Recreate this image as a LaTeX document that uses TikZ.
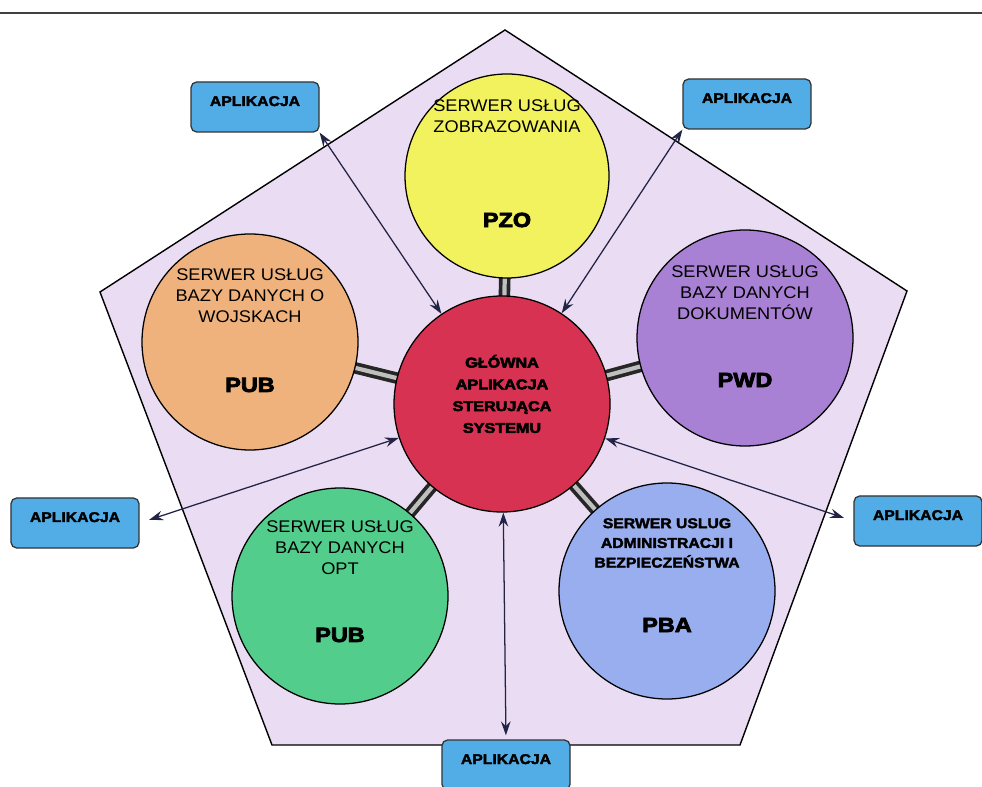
\documentclass[tikz,border=0pt]{standalone}
\usepackage{fontspec}
\setmainfont{Liberation Sans}
\newfontfamily\labelfont[FakeStretch=1.08]{Liberation Sans}
\newfontfamily\heavyfont[FakeStretch=1.12,FakeBold=2.5]{Liberation Sans Bold}
\newfontfamily\blackfont[FakeStretch=1.15,FakeBold=4]{Liberation Sans Bold}
\usetikzlibrary{positioning}
\usetikzlibrary{arrows.meta}
\usetikzlibrary{backgrounds}

\definecolor{penta}{RGB}{233,220,243}
\definecolor{zolty}{RGB}{242,242,95}
\definecolor{czerwony}{RGB}{216,50,82}
\definecolor{pomarancz}{RGB}{240,178,125}
\definecolor{fiolet}{RGB}{168,128,212}
\definecolor{zielony}{RGB}{82,205,140}
\definecolor{niebieski}{RGB}{152,174,238}
\definecolor{appblue}{RGB}{82,172,230}
\definecolor{strzal}{RGB}{35,35,70}

\begin{document}
\begin{tikzpicture}[x=0.25mm, y=-0.25mm]
% Styles:
\tikzset{serwer/.style={circle, draw=black, line width=0.9pt, minimum size=54mm, inner sep=0pt}}
\tikzset{srvtext/.style={align=center, font=\labelfont\fontsize{12}{15}\selectfont}}
\tikzset{boldtext/.style={align=center, font=\heavyfont\fontsize{10}{14}\selectfont}}
\tikzset{kod/.style={font=\blackfont\fontsize{14.5}{16}\selectfont}}
\tikzset{aplikacja/.style={draw=black!80, line width=0.9pt, fill=appblue, rounded corners=4pt,
    minimum width=32mm, minimum height=12.5mm, text height=2.5mm, text depth=3mm,
    font=\heavyfont\fontsize{10}{12}\selectfont}}
\tikzset{pipe/.style={draw=black!85, line width=2.6pt, double=gray!50, double distance=3pt}}
\tikzset{dwustr/.style={draw=strzal, line width=0.9pt, <->, >={Stealth[length=3.5mm, width=2.4mm, inset=1.2mm]}}}

\useasboundingbox (0,0) rectangle (982,787);

% Top rule:
\draw[line width=2pt, black!75] (0,13) -- (982,13);

% Servers:
\node[serwer, fill=czerwony]  (glowna) at (502,404) {};
\node[serwer, fill=zolty, minimum size=51mm] (pzo) at (507,176) {};
\node[serwer, fill=pomarancz] (pub1) at (250,342) {};
\node[serwer, fill=fiolet]    (pwd)  at (745,338) {};
\node[serwer, fill=zielony]   (pub2) at (340,596) {};
\node[serwer, fill=niebieski] (pba)  at (667,591) {};

% Pentagon and links behind the servers:
\begin{scope}[on background layer]
\filldraw[fill=penta, draw=black, line width=1pt]
  (505,30) -- (907,291) -- (740,745) -- (272,745) -- (100,292) -- cycle;
\foreach \s in {pzo,pub1,pwd,pub2,pba}
  \draw[pipe] (glowna.center) -- (\s.center);
\end{scope}

% Texts:
\node[boldtext, font=\blackfont\fontsize{10}{15.5}\selectfont] (glowna-opis) at (502,394) {GŁÓWNA\\APLIKACJA\\STERUJĄCA\\SYSTEMU};
\node[srvtext] (pzo-opis)  at (507,116) {SERWER USŁUG\\ZOBRAZOWANIA};
\node[kod]     (pzo-kod)   at (507,220) {PZO};
\node[srvtext] (pub1-opis) at (250,296) {SERWER USŁUG\\BAZY DANYCH O\\WOJSKACH};
\node[kod]     (pub1-kod)  at (250,385) {PUB};
\node[srvtext] (pwd-opis)  at (745,293) {SERWER USŁUG\\BAZY DANYCH\\DOKUMENTÓW};
\node[kod]     (pwd-kod)   at (745,380) {PWD};
\node[srvtext] (pub2-opis) at (340,548) {SERWER USŁUG\\BAZY DANYCH\\OPT};
\node[kod]     (pub2-kod)  at (340,635) {PUB};
\node[boldtext] (pba-opis) at (667,543) {SERWER USLUG\\ADMINISTRACJI I\\BEZPIECZEŃSTWA};
\node[kod]     (pba-kod)   at (667,625) {PBA};

% Applications:
\node[aplikacja] (app-lg) at (255,107) {APLIKACJA};
\node[aplikacja] (app-pg) at (747,104) {APLIKACJA};
\node[aplikacja] (app-l)  at (75,523)  {APLIKACJA};
\node[aplikacja] (app-p)  at (918,521) {APLIKACJA};
\node[aplikacja] (app-d)  at (506,765) {APLIKACJA};

% Arrows:
\draw[dwustr] (app-lg.south east) -- (glowna);
\draw[dwustr] (app-pg.south west) -- (glowna);
\draw[dwustr, shorten <=2.5mm] (app-l.east) -- (glowna);
\draw[dwustr, shorten >=2.5mm] (glowna) -- (app-p.west);
\draw[dwustr, shorten >=1mm] (glowna) -- (app-d.north);
\end{tikzpicture}
\end{document}
